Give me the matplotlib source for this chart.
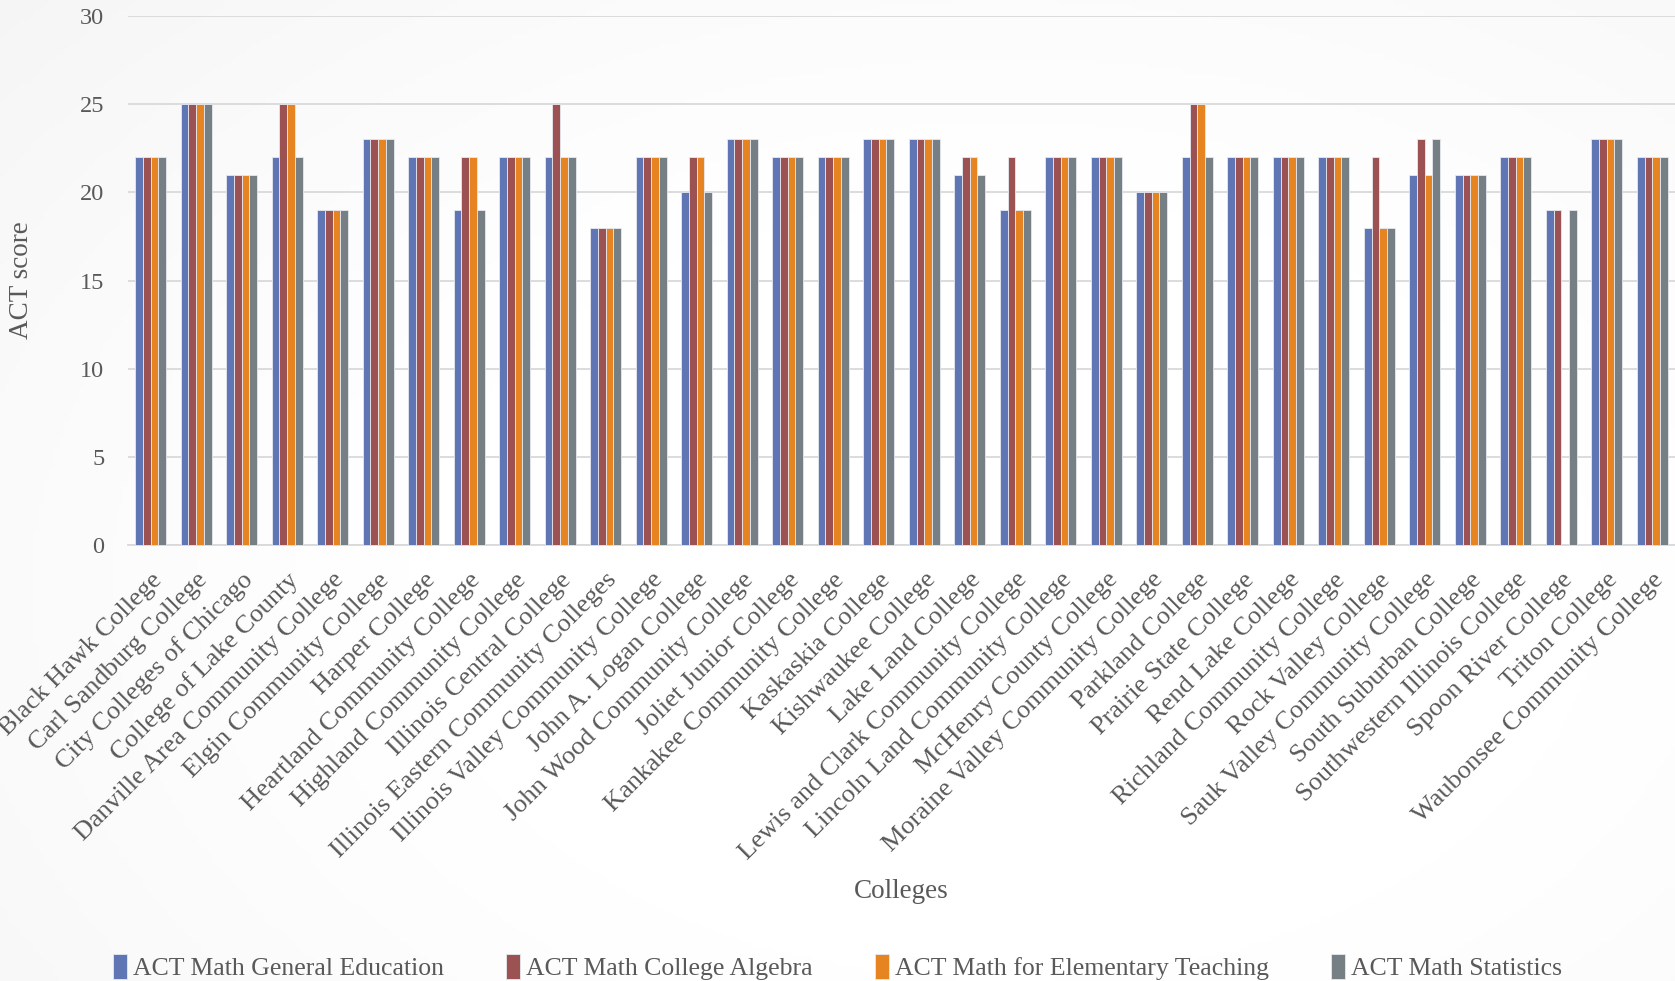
import numpy as np
import matplotlib
matplotlib.use("Agg")
import matplotlib.pyplot as plt

# --- Data ---
colleges = [
    "Black Hawk College", "Carl Sandburg College", "City Colleges of Chicago",
    "College of Lake County", "Danville Area Community College",
    "Elgin Community College", "Harper College", "Heartland Community College",
    "Highland Community College", "Illinois Central College",
    "Illinois Eastern Community Colleges", "Illinois Valley Community College",
    "John A. Logan College", "John Wood Community College", "Joliet Junior College",
    "Kankakee Community College", "Kaskaskia College", "Kishwaukee College",
    "Lake Land College", "Lewis and Clark Community College",
    "Lincoln Land Community College", "McHenry County College",
    "Moraine Valley Community College", "Parkland College", "Prairie State College",
    "Rend Lake College", "Richland Community College", "Rock Valley College",
    "Sauk Valley Community College", "South Suburban College",
    "Southwestern Illinois College", "Spoon River College", "Triton College",
    "Waubonsee Community College",
]

general_ed = [22, 25, 21, 22, 19, 23, 22, 19, 22, 22, 18, 22, 20, 23, 22, 22, 23,
              23, 21, 19, 22, 22, 20, 22, 22, 22, 22, 18, 21, 21, 22, 19, 23, 22]
college_algebra = [22, 25, 21, 25, 19, 23, 22, 22, 22, 25, 18, 22, 22, 23, 22, 22, 23,
                   23, 22, 22, 22, 22, 20, 25, 22, 22, 22, 22, 23, 21, 22, 19, 23, 22]
elementary_teaching = [22, 25, 21, 25, 19, 23, 22, 22, 22, 22, 18, 22, 22, 23, 22, 22, 23,
                       23, 22, 19, 22, 22, 20, 25, 22, 22, 22, 18, 21, 21, 22, np.nan, 23, 22]
statistics = [22, 25, 21, 22, 19, 23, 22, 19, 22, 22, 18, 22, 20, 23, 22, 22, 23,
              23, 21, 19, 22, 22, 20, 22, 22, 22, 22, 18, 23, 21, 22, 19, 23, 22]

series_names = ["ACT Math General Education", "ACT Math College Algebra",
                "ACT Math for Elementary Teaching", "ACT Math Statistics"]
colors = ["#6076B4", "#9C5252", "#E68422", "#768084"]

plt.rcParams['font.family'] = ['Liberation Serif', 'DejaVu Serif']
text_color = "#595959"

fig = plt.figure(figsize=(16.75, 9.81), dpi=100)

# soft radial background like the slide
bg = fig.add_axes([0, 0, 1, 1], zorder=-10)
yy, xx = np.mgrid[0:1:200j, 0:1:340j]
r = np.sqrt(((xx - 0.6) / 0.8) ** 2 + ((yy - 0.6) / 0.9) ** 2)
shade = 1.0 - 0.07 * np.clip(r - 0.3, 0, 1.0) ** 1.5
bg.imshow(shade, cmap="gray", vmin=0, vmax=1, aspect="auto", extent=[0, 1, 0, 1])
bg.axis("off")

ax = fig.add_axes([0.0764, 0.4444, 0.9236, 0.5393])
ax.set_facecolor("none")

x = np.arange(len(colleges))
width = 0.17
all_series = [general_ed, college_algebra, elementary_teaching, statistics]
for i, (vals, name, c) in enumerate(zip(all_series, series_names, colors)):
    ax.bar(x + (i - 1.5) * width, vals, width, color=c, label=name,
           edgecolor="#E6E9F0", linewidth=0.6, zorder=3)

ax.set_ylim(0, 30)
ax.set_yticks(range(0, 31, 5))
ax.set_xlim(-0.5, len(colleges) - 0.5)
ax.grid(axis="y", color="#D9D9D9", linewidth=1.3, zorder=0)
for s in ["top", "right", "left"]:
    ax.spines[s].set_visible(False)
ax.spines["bottom"].set_color("#D9D9D9")
ax.spines["bottom"].set_linewidth(1.3)
ax.tick_params(axis="both", length=0, colors=text_color, labelsize=17.5)
ax.tick_params(axis="y", pad=17)

ax.set_xticks(x)
ax.set_xticklabels(colleges, rotation=45, ha="right", va="top",
                   rotation_mode="anchor", fontsize=19, color=text_color)
ax.tick_params(axis="x", pad=17)

ax.set_ylabel("ACT score", fontsize=19.5, color=text_color, labelpad=33)
fig.text(0.5 + 0.0764 / 2, 1 - 892 / 981, "Colleges", ha="center", va="center",
         fontsize=19.5, color=text_color)

fig.legend(loc="center", bbox_to_anchor=(0.5, 1 - 967 / 981), ncol=4,
           frameon=False, fontsize=18.5, handlelength=0.55, handleheight=1.1,
           handletextpad=0.25, columnspacing=2.4, labelcolor=text_color)

fig.savefig("out.png", dpi=100)
